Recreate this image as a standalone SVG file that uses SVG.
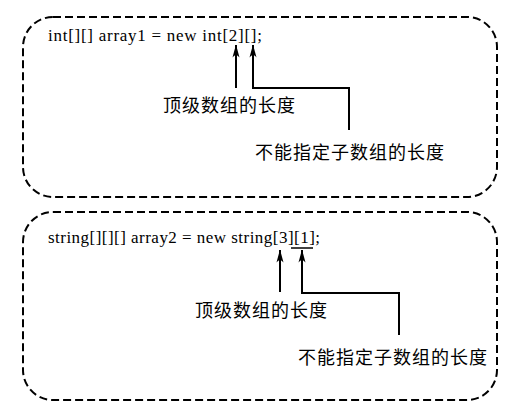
<svg xmlns="http://www.w3.org/2000/svg" width="515" height="417" viewBox="0 0 515 417">
<defs>
<style>
.box{fill:none;stroke:#000;stroke-width:2;stroke-dasharray:8 4}
.code{font-family:"Liberation Serif","Times New Roman",serif;font-size:17px;fill:#000}
.lbl{font-family:"Noto Sans CJK SC","Noto Sans CJK JP",sans-serif;font-size:18px;fill:#000;letter-spacing:1px}
.conn{fill:none;stroke:#000;stroke-width:2}
</style>
<marker id="ah" viewBox="0 0 13 8" refX="12.5" refY="4" markerWidth="13" markerHeight="8" markerUnits="userSpaceOnUse" orient="auto">
<path d="M0,0.5 Q5,4 0,7.5 L13,4 Z" fill="#000"/>
</marker>
</defs>
<rect width="515" height="417" fill="#fff"/>
<g id="box1">
<rect class="box" x="23" y="17" width="474" height="180" rx="30" ry="30"/>
<text class="code" x="48" y="41" textLength="214" lengthAdjust="spacing">int[][]  array1 = new  int[2][];</text>
</g>
<g id="label1a"><text class="lbl" x="163" y="112">顶级数组的长度</text></g>
<g id="label1b"><text class="lbl" x="255" y="159">不能指定子数组的长度</text></g>
<g id="box2">
<rect class="box" x="23" y="212" width="474" height="188" rx="30" ry="30"/>
<text class="code" x="48" y="243" textLength="272" lengthAdjust="spacing">string[][][] array2 = new  string[3][1];</text>
<line x1="291" y1="248" x2="313" y2="248" stroke="#000" stroke-width="1.5"/>
</g>
<g id="label2a"><text class="lbl" x="195" y="317">顶级数组的长度</text></g>
<g id="label2b"><text class="lbl" x="298" y="364">不能指定子数组的长度</text></g>
<g id="connectors">
<path class="conn" d="M236,88 V45" marker-end="url(#ah)"/>
<path class="conn" d="M349,130 V88 H253 V45" marker-end="url(#ah)"/>
<path class="conn" d="M280,292 V250" marker-end="url(#ah)"/>
<path class="conn" d="M399,335 V293 H302 V250" marker-end="url(#ah)"/>
</g>
</svg>
